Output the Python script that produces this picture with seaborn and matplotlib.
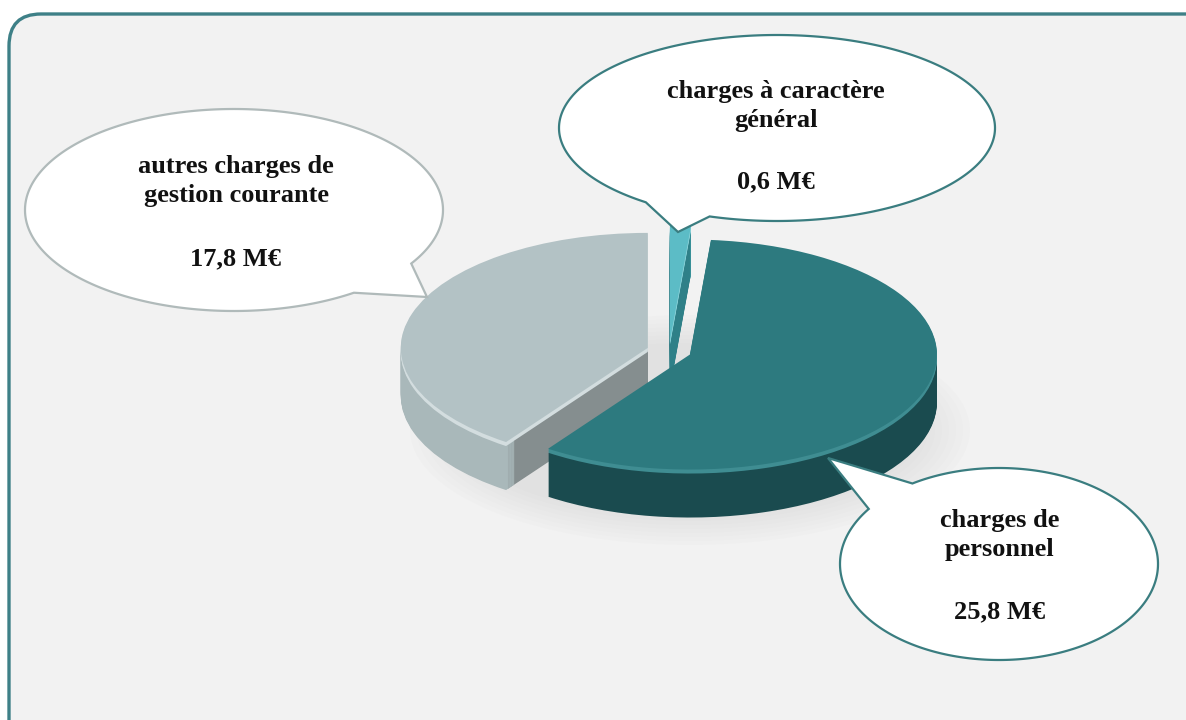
import numpy as np
import matplotlib
matplotlib.use("Agg")
import matplotlib.pyplot as plt
from matplotlib.patches import FancyBboxPatch, Polygon, Ellipse
from matplotlib.transforms import Affine2D
import seaborn as sns

# data: order follows the pie, counter-clockwise from 12 o'clock
categories = ["autres charges de gestion courante", "charges de personnel", "charges à caractère général"]
values = [17.8, 25.8, 0.6]
label_lines = [["autres charges de", "gestion courante"],
               ["charges de", "personnel"],
               ["charges à caractère", "général"]]
value_labels = [f"{v:.1f}".replace(".", ",") + " M€" for v in values]

top_colors = ["#b3c2c5", "#2d7a7f", "#5cbcc6"]
rim_colors = ["#a9b8ba", "#1a4b4f", "#3f9ca5"]
cut_colors = ["#858e8f", "#1f5a5e", "#2f8088"]
bevel_colors = ["#d3dddf", "#3f8d92", "#8ad2d9"]
explode = [0.09, 0.09, 0.09]

W, H = 1186, 720
sns.set_theme(style="white")
plt.rcParams['font.family'] = ['Liberation Serif', 'DejaVu Serif']

fig = plt.figure(figsize=(W / 100, H / 100), dpi=100, facecolor="white")
ax = fig.add_axes([0, 0, 1, 1])


def Y(y):
    # image row -> axis y (axis y goes up)
    return H - y


# rounded panel, cut off on the right and bottom
ax.add_patch(FancyBboxPatch((9, Y(760)), 1230, 746,
                            boxstyle="round,pad=0,rounding_size=32",
                            fc="#f2f2f2", ec="#3e8087", lw=2.4, zorder=0))

# soft shadow under the pie
for k in range(8):
    ax.add_patch(Ellipse((690, Y(430)), 560 - k * 14, 230 - k * 8,
                         fc="#9a9a9a", ec="none", alpha=0.025, zorder=1))

# 3d pie: side layers stacked downwards, then the top face
cx, cy = 669, Y(351)
rx, ry = 247, 115
depth = 48


def pie_layer(dy, colors, z, radius=1.0, width=None):
    wp = dict(linewidth=0)
    if width is not None:
        wp["width"] = width
    wedges, _ = ax.pie(values, explode=explode, startangle=90, counterclock=True,
                       colors=colors, radius=radius, center=(0, 0), wedgeprops=wp)
    tr = Affine2D().scale(rx, ry).translate(cx, cy - dy) + ax.transData
    for w in wedges:
        w.set_transform(tr)
        w.set_zorder(z)


for d in range(depth, 0, -1):
    z = 2 + (depth - d) * 0.001
    if d <= 4:
        pie_layer(d, bevel_colors, z)
    else:
        # inner part slightly smaller so its edge hides under the rim ring
        pie_layer(d, cut_colors, z, radius=0.985)
        pie_layer(d, rim_colors, z + 0.0005, width=0.06)
pie_layer(0, top_colors, 3)

ax.set_xlim(0, W)
ax.set_ylim(0, H)
ax.set_aspect("auto")
ax.axis("off")


def callout(c, r, gap, tip, ec):
    a, b = r
    t = np.radians(np.linspace(gap[1], gap[0] + 360, 300))
    pts = np.column_stack([c[0] + a * np.cos(t), Y(c[1]) + b * np.sin(t)])
    pts = np.vstack([pts, [tip[0], Y(tip[1])]])
    ax.add_patch(Polygon(pts, closed=True, fc="white", ec=ec, lw=1.6, zorder=5))


callout((234, 210), (209, 101), (305, 328), (427, 297), "#b0baba")
callout((999, 564), (159, 96), (123, 145), (828, 458), "#3a7d80")
callout((777, 128), (218, 93), (233, 252), (678, 232), "#3a7d80")

font = dict(fontsize=19, fontweight="bold", color="#111111", zorder=6)
# text anchors (x, first baseline, value baseline)
text_pos = [(236, 173, 265), (1000, 527, 618), (776, 98, 188)]
for lines, val, (tx, ty, vy) in zip(label_lines, value_labels, text_pos):
    for i, line in enumerate(lines):
        ax.text(tx, Y(ty + 29 * i), line, ha="center", va="baseline", **font)
    ax.text(tx, Y(vy), val, ha="center", va="baseline", **font)

fig.savefig("out.png", dpi=100, facecolor=fig.get_facecolor())
